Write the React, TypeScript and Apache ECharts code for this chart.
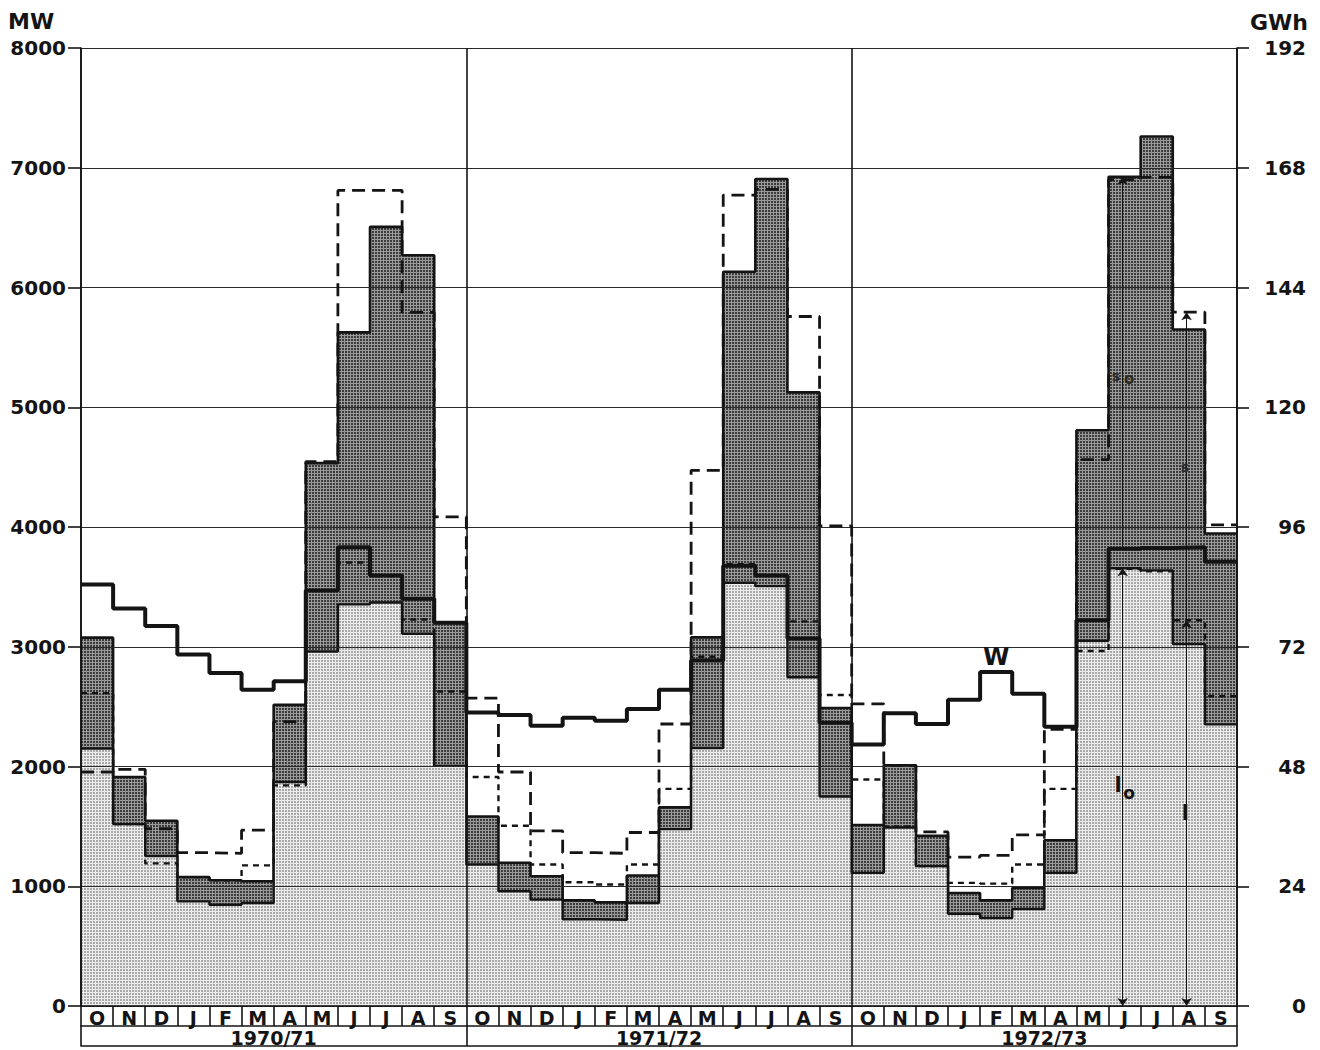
import React, { useEffect, useRef } from "react";
import * as echarts from "echarts";

// ---------- data ----------
const monthLetters = ["O", "N", "D", "J", "F", "M", "A", "M", "J", "J", "A", "S"];
const seasons = ["1970/71", "1971/72", "1972/73"];
const monthAxis = [...monthLetters, ...monthLetters, ...monthLetters];
const mwTicks = [0, 1000, 2000, 3000, 4000, 5000, 6000, 7000, 8000];
const gwhTicks = [0, 24, 48, 72, 96, 120, 144, 168, 192];

// top of the light stippled area (MW)
const lightTop = [
  2150, 1519, 1252, 874, 846, 860, 1870, 2960, 3354, 3370, 3108, 2005,
  1182, 958, 888, 725, 720, 860, 1477, 2155, 3535, 3506, 2745, 1750,
  1112, 1491, 1168, 770, 734, 809, 1112, 3050, 3656, 3638, 3022, 2352,
];
// top of the dark stippled area (MW)
const darkTop = [
  3076, 1912, 1547, 1076, 1050, 1042, 2515, 4533, 5625, 6506, 6269, 3200,
  1583, 1196, 1084, 882, 865, 1090, 1659, 3078, 6131, 6906, 5124, 2488,
  1511, 2010, 1421, 944, 882, 986, 1384, 4808, 6924, 7261, 5649, 3946,
];
// W, thick solid line (MW)
const wLine = [
  3519, 3320, 3174, 2935, 2781, 2641, 2711, 3470, 3830, 3595, 3400, 3200,
  2450, 2430, 2341, 2408, 2383, 2481, 2641, 2885, 3676, 3596, 3068, 2365,
  2184, 2445, 2355, 2557, 2790, 2607, 2332, 3221, 3819, 3825, 3830, 3710,
];
// long dashed line (MW)
const longDash = [
  1954, 1976, 1480, 1280, 1275, 1468, 2374, 4545, 6811, 6811, 5792, 4085,
  2571, 1954, 1463, 1280, 1275, 1449, 2355, 4473, 6772, 6819, 5758, 4009,
  2523, 2010, 1454, 1244, 1258, 1429, 2310, 4562, 6900, 6920, 5794, 4018,
];
// short dashed line (MW)
const shortDash = [
  2613, 1519, 1191, 1076, 1050, 1174, 1842, 3470, 3703, 3590, 3228, 2626,
  1912, 1505, 1182, 1034, 1014, 1182, 1813, 2916, 3690, 3600, 3212, 2597,
  1892, 1500, 1168, 1028, 1022, 1182, 1813, 2964, 3650, 3630, 3221, 2587,
];

// ---------- helpers ----------
const FONT = "'DejaVu Sans', sans-serif";
const INK = "#141414";

function steps(vals: number[]) {
  const out: number[][] = [];
  vals.forEach((v, i) => {
    out.push([i, v]);
    out.push([i + 1, v]);
  });
  return out;
}

// small halftone-like stipple tile
function stipple(bg: string, dot: string): any {
  const c = document.createElement("canvas");
  c.width = 3;
  c.height = 3;
  const g = c.getContext("2d")!;
  g.fillStyle = bg;
  g.fillRect(0, 0, 3, 3);
  g.fillStyle = dot;
  g.fillRect(0, 0, 2, 2);
  return { image: c, repeat: "repeat" };
}

const JUN73 = 32;
const AUG73 = 34;
const xArrowJun = JUN73 + 0.44;
const xArrowAug = AUG73 + 0.43;

function buildOption(): any {
  const txt = (formatter: string, coord: number[], size: number, color = INK, extra: any = {}) => ({
    coord,
    label: {
      show: true,
      formatter,
      position: "inside",
      fontSize: size,
      fontWeight: "bold",
      fontFamily: FONT,
      color,
      ...extra,
    },
  });
  return {
    animation: false,
    backgroundColor: "#ffffff",
    grid: { left: 81, right: 83, top: 48, bottom: 44, containLabel: false },
    graphic: [
      { type: "text", left: 8, top: 10, style: { text: "MW", font: `bold 22px ${FONT}`, fill: INK } },
      { type: "text", right: 12, top: 11, style: { text: "GWh", font: `bold 22px ${FONT}`, fill: INK } },
    ],
    xAxis: [
      {
        type: "value",
        min: 0,
        max: 36,
        interval: 12,
        axisLine: { show: false },
        axisTick: { show: false },
        axisLabel: { show: false },
        splitLine: { show: true, lineStyle: { color: INK, width: 1.6 } },
        z: 4,
      },
      {
        type: "category",
        data: monthAxis,
        position: "bottom",
        offset: 0,
        boundaryGap: true,
        axisLine: { show: true, lineStyle: { color: INK, width: 1.6 } },
        axisTick: { show: true, interval: 0, length: 20, lineStyle: { color: INK, width: 1.6 } },
        axisLabel: { interval: 0, margin: 2, fontSize: 19, lineHeight: 19, fontWeight: "bold", color: INK, fontFamily: FONT },
        splitLine: { show: false },
        z: 5,
      },
      {
        type: "category",
        data: seasons,
        position: "bottom",
        offset: 20,
        boundaryGap: true,
        axisLine: { show: true, lineStyle: { color: INK, width: 1.6 } },
        axisTick: { show: true, interval: 0, length: 20, lineStyle: { color: INK, width: 1.6 } },
        axisLabel: { interval: 0, margin: 2, fontSize: 19, lineHeight: 19, fontWeight: "bold", color: INK, fontFamily: FONT },
        splitLine: { show: false },
        z: 5,
      },
      {
        type: "category",
        data: [""],
        position: "bottom",
        offset: 40,
        axisLine: { show: true, lineStyle: { color: INK, width: 1.6 } },
        axisTick: { show: false },
        axisLabel: { show: false },
        splitLine: { show: false },
        z: 5,
      },
    ],
    yAxis: [
      {
        type: "value",
        min: mwTicks[0],
        max: mwTicks[mwTicks.length - 1],
        interval: mwTicks[1] - mwTicks[0],
        position: "left",
        axisLine: { show: true, lineStyle: { color: INK, width: 1.6 } },
        axisTick: { show: true, length: 13, lineStyle: { color: INK, width: 1.6 } },
        axisLabel: {
          margin: 15,
          fontSize: 20,
          fontWeight: "bold",
          color: INK,
          fontFamily: FONT,
          formatter: (v: number) => String(v),
        },
        splitLine: { show: true, lineStyle: { color: "#2a2a2a", width: 1.1 } },
        z: 4,
      },
      {
        type: "value",
        min: gwhTicks[0],
        max: gwhTicks[gwhTicks.length - 1],
        interval: gwhTicks[1] - gwhTicks[0],
        position: "right",
        axisLine: { show: true, lineStyle: { color: INK, width: 1.6 } },
        axisTick: { show: true, length: 12, lineStyle: { color: INK, width: 1.6 } },
        axisLabel: {
          margin: 69,
          align: "right",
          fontSize: 20,
          fontWeight: "bold",
          color: INK,
          fontFamily: FONT,
          formatter: (v: number) => String(v),
        },
        splitLine: { show: false },
        z: 4,
      },
    ],
    series: [
      {
        name: "dark",
        type: "line",
        xAxisIndex: 0,
        yAxisIndex: 0,
        data: steps(darkTop),
        symbol: "none",
        lineStyle: { color: INK, width: 2.6 },
        areaStyle: { color: stipple("#9a9a9a", "#3c3c3c"), opacity: 1 },
        z: 2,
      },
      {
        name: "light",
        type: "line",
        xAxisIndex: 0,
        yAxisIndex: 0,
        data: steps(lightTop),
        symbol: "none",
        lineStyle: { color: INK, width: 2.4 },
        areaStyle: { color: stipple("#ececec", "#a8a8a8"), opacity: 1 },
        z: 3,
      },
      {
        name: "short dash",
        type: "line",
        xAxisIndex: 0,
        yAxisIndex: 0,
        data: steps(shortDash),
        symbol: "none",
        lineStyle: { color: INK, width: 2.4, type: [6, 5] },
        z: 6,
      },
      {
        name: "long dash",
        type: "line",
        xAxisIndex: 0,
        yAxisIndex: 0,
        data: steps(longDash),
        symbol: "none",
        lineStyle: { color: INK, width: 2.8, type: [13, 7] },
        z: 7,
      },
      {
        name: "W",
        type: "line",
        xAxisIndex: 0,
        yAxisIndex: 0,
        data: steps(wLine),
        symbol: "none",
        lineStyle: { color: INK, width: 4 },
        z: 8,
        markLine: {
          silent: true,
          symbol: ["arrow", "arrow"],
          symbolSize: 8,
          label: { show: false },
          lineStyle: { color: INK, width: 1, type: "solid" },
          data: [
            [{ coord: [xArrowJun, 0] }, { coord: [xArrowJun, lightTop[JUN73]] }],
            [{ coord: [xArrowJun, wLine[JUN73]], symbol: "none" }, { coord: [xArrowJun, darkTop[JUN73]] }],
            [{ coord: [xArrowAug, 0] }, { coord: [xArrowAug, shortDash[AUG73]] }],
            [{ coord: [xArrowAug, shortDash[AUG73]], symbol: "none" }, { coord: [xArrowAug, longDash[AUG73]] }],
          ],
        },
        markPoint: {
          silent: true,
          symbol: "rect",
          symbolSize: 1,
          itemStyle: { color: "rgba(0,0,0,0)" },
          data: [
            txt("W", [28.5, wLine[28]], 24, INK, { position: "top", distance: 2 }),
            txt("l", [32.3, 1845], 21),
            txt("o", [32.64, 1775], 17),
            txt("s", [32.23, 5261], 14, "#2a2a2a"),
            txt("o", [32.64, 5232], 15, "#2a2a2a"),
            txt("s", [34.38, 4500], 14, "#2a2a2a"),
            txt("l", [34.39, 1612], 21),
          ],
        },
      },
    ],
  };
}

export default function App() {
  const ref = useRef<HTMLDivElement>(null);
  useEffect(() => {
    if (!ref.current) return;
    const chart = echarts.init(ref.current, null, { renderer: "svg" });
    chart.setOption(buildOption());
    return () => {
      chart.dispose();
    };
  }, []);
  return (
    <div
      ref={ref}
      style={{ position: "absolute", left: 0, top: 0, width: 1320, height: 1050, background: "#ffffff" }}
    />
  );
}
